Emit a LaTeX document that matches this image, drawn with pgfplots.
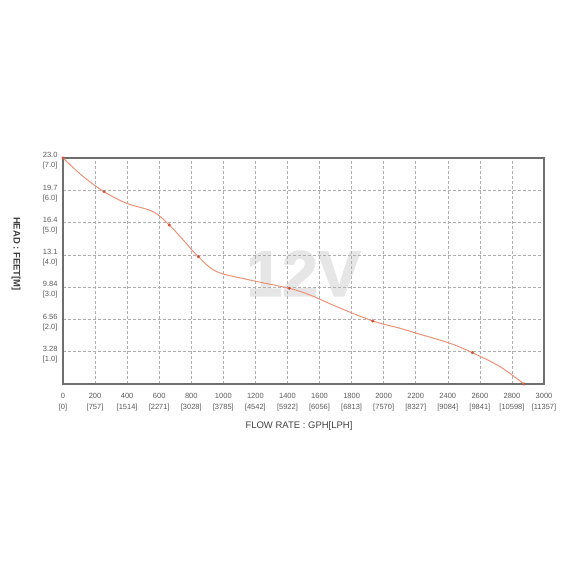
\documentclass[border=0pt]{standalone}
\usepackage{fontspec}
\setmainfont{Liberation Sans}
\newfontfamily\wmfont[FakeBold=2.5]{Liberation Sans Bold}
\usepackage{pgfplots}
\pgfplotsset{compat=1.18}

\definecolor{curve}{RGB}{236,146,118}
\definecolor{dot}{RGB}{205,86,62}
\definecolor{frame}{RGB}{110,110,110}
\definecolor{gridc}{RGB}{175,175,175}
\definecolor{tick}{RGB}{90,90,90}
\definecolor{wm}{RGB}{230,230,230}

\newcommand{\tl}[2]{#1\\{[#2]}}

\begin{document}
\begin{tikzpicture}
\path (0pt,0pt) rectangle (570pt,570pt);
\begin{axis}[
    at={(63pt,186pt)}, anchor=south west,
    scale only axis, width=481pt, height=226pt,
    set layers,
    xmin=0, xmax=3000,
    ymin=0, ymax=23,
    xtick={0,200,...,3000},
    xticklabels={{\tl{0}{0}},{\tl{200}{757}},{\tl{400}{1514}},{\tl{600}{2271}},
        {\tl{800}{3028}},{\tl{1000}{3785}},{\tl{1200}{4542}},{\tl{1400}{5922}},
        {\tl{1600}{6056}},{\tl{1800}{6813}},{\tl{2000}{7570}},{\tl{2200}{8327}},
        {\tl{2400}{9084}},{\tl{2600}{9841}},{\tl{2800}{10598}},{\tl{3000}{11357}}},
    ytick={3.2857,6.5714,9.8571,13.1429,16.4286,19.7143,23},
    yticklabels={{\tl{3.28}{1.0}},{\tl{6.56}{2.0}},{\tl{9.84}{3.0}},{\tl{13.1}{4.0}},
        {\tl{16.4}{5.0}},{\tl{19.7}{6.0}},{\tl{23.0}{7.0}}},
    xticklabel style={align=center, font=\fontsize{7.5}{10.5}\selectfont, text=tick, yshift=-6pt},
    yticklabel style={align=right, font=\fontsize{7.5}{10}\selectfont, text=tick, xshift=-2pt, yshift=-3pt},
    major tick length=0pt,
    grid=major,
    grid style={gridc, densely dashed, line width=0.6pt},
    axis line style={frame, line width=1.3pt},
    clip=false,
]
\begin{pgfonlayer}{axis background}
\node[text=wm, font=\fontsize{64}{64}\selectfont\wmfont] at (axis cs:1500,11.25) {12V};
\end{pgfonlayer}

\addplot[curve, line width=1pt, smooth, tension=0.55] coordinates {
    (0,23) (127,21.10) (256,19.57) (397,18.39) (563,17.53) (663,16.18)
    (750,14.65) (844,12.96) (959,11.43) (1166,10.58) (1411,9.74)
    (1540,9.06) (1707,7.87) (1932,6.41) (2102,5.67) (2206,5.16)
    (2414,4.14) (2553,3.19) (2726,1.76) (2875,0)
};
\addplot[only marks, mark=*, mark size=1.3pt, dot] coordinates {
    (0,23) (256,19.57) (663,16.18) (844,12.96) (1411,9.74)
    (1932,6.41) (2553,3.19) (2875,0)
};
\end{axis}
\node[text=black!75, font=\fontsize{9.5}{11}\selectfont] at (299pt,144pt) {FLOW RATE : GPH[LPH]};
\node[text=black!75, font=\fontsize{9.5}{11}\selectfont\bfseries, rotate=-90] at (16pt,316pt) {HEAD : FEET[M]};
\end{tikzpicture}
\end{document}
